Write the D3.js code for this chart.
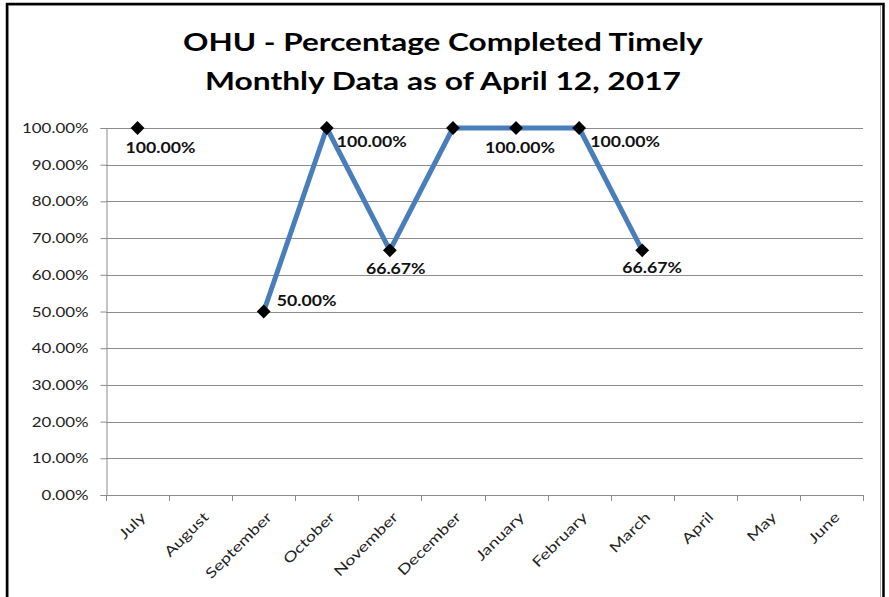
<!DOCTYPE html>
<html><head><meta charset="utf-8">
<script src="https://cdn.jsdelivr.net/npm/d3@7/dist/d3.min.js"></script>
<style>body{margin:0;background:#fff}svg{display:block}</style>
</head><body>
<svg id="c" width="889" height="597"></svg>
<script>
const titleLines = ["OHU - Percentage Completed Timely", "Monthly Data as of April 12, 2017"];
const months = ["July","August","September","October","November","December","January","February","March","April","May","June"];
const values = [1.0, null, 0.5, 1.0, 0.6667, 1.0, 1.0, 1.0, 0.6667, null, null, null];
const showLabel = [true, false, true, true, true, false, true, true, true, false, false, false];
const yTicks = [0,0.1,0.2,0.3,0.4,0.5,0.6,0.7,0.8,0.9,1.0];

// label placement (layout): offsets from point
const labelOffsets = [[-12,19],[0,0],[13,-11],[10,13],[-24,18],[0,0],[-31,19],[11,13],[-20,17],[0,0],[0,0],[0,0]];

const SX = 1.25;
const svg = d3.select("#c");
const L = 106, R = 863, T = 128, B = 495;

// outer border
svg.append("rect").attr("x",8.5).attr("y",5.5).attr("width",872).attr("height",640)
  .attr("fill","none").attr("stroke","#b0b0b0").attr("stroke-width",1);
svg.append("rect").attr("x",7).attr("y",4).attr("width",876.5).attr("height",640)
  .attr("fill","none").attr("stroke","#000").attr("stroke-width",2.5);

const x = d3.scaleBand().domain(months).range([L,R]).padding(0);
const y = d3.scaleLinear().domain([0,1]).range([B,T]);

// title
const tw = [520, 476];
titleLines.forEach((t,i)=>{
  svg.append("text").attr("x",443).attr("y",[51,90][i]).attr("text-anchor","middle")
    .attr("font-family","Lato, sans-serif").attr("font-weight","bold").attr("font-size",25)
    .attr("textLength",tw[i]).attr("lengthAdjust","spacingAndGlyphs")
    .attr("fill","#000").text(t);
});

// gridlines
svg.append("g").selectAll("line").data(yTicks.filter(d=>d>0)).join("line")
  .attr("x1",L).attr("x2",R).attr("y1",d=>Math.round(y(d))+0.5).attr("y2",d=>Math.round(y(d))+0.5)
  .attr("stroke","#8c8c8c").attr("stroke-width",1);

// y axis
const yAxis = svg.append("g").attr("transform",`translate(${L+0.5},0)`)
  .call(d3.axisLeft(y).tickValues(yTicks).tickSize(6).tickFormat(d3.format(".2%")));
yAxis.select(".domain").attr("stroke","#8c8c8c");
yAxis.selectAll(".tick line").attr("stroke","#8c8c8c");
yAxis.selectAll(".tick text").each(function(d){
  const s = d3.select(this);
  s.attr("x",null).attr("dy",null)
   .attr("transform",`translate(-18,${4.5}) scale(1.3,1)`)
   .attr("text-anchor","end").attr("font-family","Lato, sans-serif").attr("font-size",13).attr("fill","#222");
});

// x axis
const xAxis = svg.append("g").attr("transform",`translate(0,${B+0.5})`)
  .call(d3.axisBottom(x).tickSize(0).tickFormat(""));
xAxis.select(".domain").attr("stroke","#8c8c8c").attr("d",`M${L},0H${R}`);
svg.append("g").selectAll("line").data(months.concat(["end"])).join("line")
  .attr("x1",(d,i)=>Math.round(L + i*x.bandwidth())+0.5).attr("x2",(d,i)=>Math.round(L + i*x.bandwidth())+0.5)
  .attr("y1",B).attr("y2",B+6).attr("stroke","#8c8c8c");
svg.append("g").selectAll("text").data(months).join("text")
  .attr("transform",d=>`translate(${x(d)+x.bandwidth()/2+9},${B+23}) rotate(-45) scale(1.3,1)`)
  .attr("text-anchor","end").attr("font-family","Lato, sans-serif").attr("font-size",14).attr("fill","#222")
  .text(d=>d);

// line
const pts = months.map((m,i)=>({m, v:values[i], i}));
const line = d3.line().defined(d=>d.v!==null).x(d=>x(d.m)+x.bandwidth()/2).y(d=>y(d.v));
svg.append("path").datum(pts).attr("d",line).attr("fill","none")
  .attr("stroke","#4a7ebb").attr("stroke-width",5).attr("stroke-linejoin","round");

// markers
svg.append("g").selectAll("path").data(pts.filter(d=>d.v!==null)).join("path")
  .attr("d",d3.symbol(d3.symbolSquare,95))
  .attr("transform",d=>`translate(${x(d.m)+x.bandwidth()/2},${y(d.v)}) rotate(45)`)
  .attr("fill","#000");

// data labels
svg.append("g").selectAll("text").data(pts.filter(d=>d.v!==null && showLabel[d.i])).join("text")
  .attr("transform",d=>`translate(${x(d.m)+x.bandwidth()/2+labelOffsets[d.i][0]},${y(d.v)+labelOffsets[d.i][1]+5.5}) scale(1.18,1)`)
  .attr("font-family","Lato, sans-serif").attr("font-weight","bold").attr("font-size",15).attr("fill","#111")
  .text(d=>d3.format(".2%")(d.v));
</script>
</body></html>
